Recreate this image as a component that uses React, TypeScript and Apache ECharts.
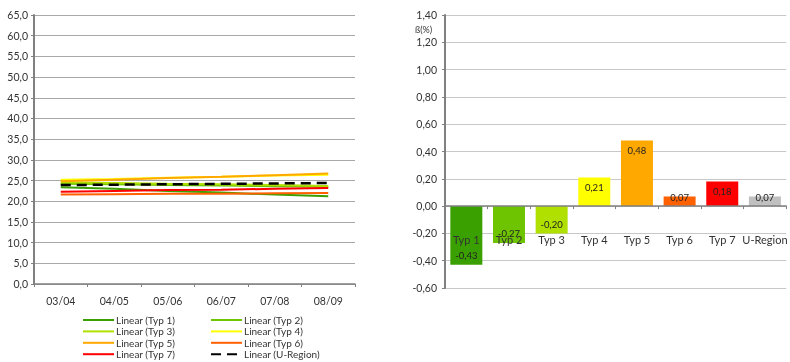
import React, { useEffect, useRef } from "react";
import * as echarts from "echarts";

const years = ["03/04", "04/05", "05/06", "06/07", "07/08", "08/09"];
const typ1 = [23.4, 23.0, 22.5, 22.1, 21.6, 21.2];
const typ2 = [24.2, 24.1, 23.9, 23.8, 23.6, 23.5];
const typ3 = [24.6, 24.4, 24.2, 24.1, 23.9, 23.7];
const typ4 = [25.2, 25.4, 25.7, 25.9, 26.2, 26.4];
const typ5 = [24.8, 25.2, 25.6, 25.9, 26.3, 26.7];
const typ6 = [21.6, 21.7, 21.8, 21.8, 21.9, 22.0];
const typ7 = [22.3, 22.5, 22.7, 22.8, 23.0, 23.2];
const uRegion = [23.9, 24.0, 24.1, 24.2, 24.3, 24.4];

const betaCategories = ["Typ 1", "Typ 2", "Typ 3", "Typ 4", "Typ 5", "Typ 6", "Typ 7", "U-Region"];
const betaValues = [-0.43, -0.27, -0.2, 0.21, 0.48, 0.07, 0.18, 0.07];

const colors = ["#3aa000", "#6ec400", "#b0e000", "#ffff00", "#ffa800", "#ff6000", "#ff0000", "#c0c0c0"];

const FONT = "Lato, 'Noto Sans', sans-serif";

export default function App() {
  const ref = useRef<HTMLDivElement>(null);
  useEffect(() => {
    if (!ref.current) return;
    const chart = echarts.init(ref.current, undefined, { renderer: "svg" });
    const lineSeriesData = [typ1, typ2, typ3, typ4, typ5, typ6, typ7];
    const lineNames = ["Linear (Typ 1)", "Linear (Typ 2)", "Linear (Typ 3)", "Linear (Typ 4)", "Linear (Typ 5)", "Linear (Typ 6)", "Linear (Typ 7)", "Linear (U-Region)"];
    const lineSeries: any[] = lineSeriesData.map((d, i) => ({
      type: "line",
      name: lineNames[i],
      xAxisIndex: 0,
      yAxisIndex: 0,
      data: d,
      symbol: "none",
      lineStyle: { color: colors[i], width: 2 },
      itemStyle: { color: colors[i] },
      z: 3,
    }));
    lineSeries.push({
      type: "line",
      name: lineNames[7],
      xAxisIndex: 0,
      yAxisIndex: 0,
      data: uRegion,
      symbol: "none",
      lineStyle: { color: "#000", width: 2.5, type: [10, 6] },
      itemStyle: { color: "#000" },
      z: 4,
    });

    const barData = betaValues.map((v, i) => {
      let label: any;
      if (v < 0) label = { position: "insideBottom", distance: 4 };
      else if (v < 0.1) label = { position: "top", distance: -6 };
      else label = { position: "insideTop", distance: 5 };
      return { value: v, itemStyle: { color: colors[i] }, label };
    });

    const fmt1 = (v: number) => v.toFixed(1).replace(".", ",");
    const fmt2 = (v: number) => v.toFixed(2).replace(".", ",");

    const betaMin = -0.6;
    const betaMax = 1.4;
    const grid2Height = 273;
    const zeroOffset = -grid2Height * (0 - betaMin) / (betaMax - betaMin);

    const legendBase = {
      orient: "vertical",
      top: 310,
      height: 60,
      itemWidth: 31,
      itemHeight: 12,
      itemGap: 1.4,
      itemStyle: { opacity: 0 },
      textStyle: { fontSize: 10, color: "#333", fontFamily: FONT, padding: [0, 0, 0, -3] },
    };

    chart.setOption({
      animation: false,
      textStyle: { fontFamily: FONT },
      grid: [
        { left: 34, top: 15, width: 321, height: 269, containLabel: false },
        { left: 445, top: 15, width: 350, height: grid2Height, containLabel: false },
      ],
      xAxis: [
        {
          type: "category",
          gridIndex: 0,
          data: years,
          boundaryGap: true,
          axisLine: { lineStyle: { color: "#808080", width: 1.5 } },
          axisTick: { show: true, length: 3, lineStyle: { color: "#808080" } },
          axisLabel: { color: "#333", fontSize: 10.5, margin: 11, fontFamily: FONT },
        },
        {
          type: "category",
          gridIndex: 1,
          data: betaCategories,
          boundaryGap: true,
          position: "bottom",
          offset: zeroOffset,
          axisLine: { onZero: false, lineStyle: { color: "#808080", width: 1.5 } },
          axisTick: { show: true, length: 3, lineStyle: { color: "#808080" } },
          axisLabel: { color: "#333", fontSize: 11, margin: 28, interval: 0, fontFamily: FONT },
          z: 5,
        },
      ],
      yAxis: [
        {
          type: "value",
          gridIndex: 0,
          min: 0,
          max: 65,
          interval: 5,
          axisLine: { show: true, lineStyle: { color: "#808080", width: 2 } },
          axisTick: { show: true, length: 3, lineStyle: { color: "#808080" } },
          axisLabel: { color: "#333", fontSize: 10.5, margin: 6, formatter: fmt1, fontFamily: FONT },
          splitLine: { show: true, lineStyle: { color: "#a8a8a8", width: 1 } },
        },
        {
          type: "value",
          gridIndex: 1,
          min: betaMin,
          max: betaMax,
          interval: 0.2,
          axisLine: { show: true, onZero: false, lineStyle: { color: "#808080", width: 2 } },
          axisTick: { show: true, length: 3, lineStyle: { color: "#808080" } },
          axisLabel: { color: "#333", fontSize: 10.5, margin: 8, formatter: fmt2, fontFamily: FONT },
          splitLine: { show: true, lineStyle: { color: "#c8c8c8", width: 1 } },
        },
      ],
      legend: [
        { ...legendBase, left: 77, data: [lineNames[0], lineNames[2], lineNames[4], lineNames[6]] },
        { ...legendBase, left: 205, data: [lineNames[1], lineNames[3], lineNames[5], lineNames[7]] },
      ],
      graphic: [
        {
          type: "text",
          left: 415,
          top: 25,
          style: { text: "ß(%)", fontSize: 9, fill: "#333", fontFamily: FONT },
        },
      ],
      series: [
        ...lineSeries,
        {
          type: "bar",
          name: "beta",
          xAxisIndex: 1,
          yAxisIndex: 1,
          data: barData,
          barCategoryGap: "25%",
          label: {
            show: true,
            fontSize: 9.5,
            color: "#222",
            fontFamily: FONT,
            formatter: (p: any) => fmt2(p.value),
          },
          z: 2,
        },
      ],
    });
    return () => chart.dispose();
  }, []);
  return <div ref={ref} style={{ position: "fixed", left: 0, top: 0, width: 790, height: 362 }} />;
}
